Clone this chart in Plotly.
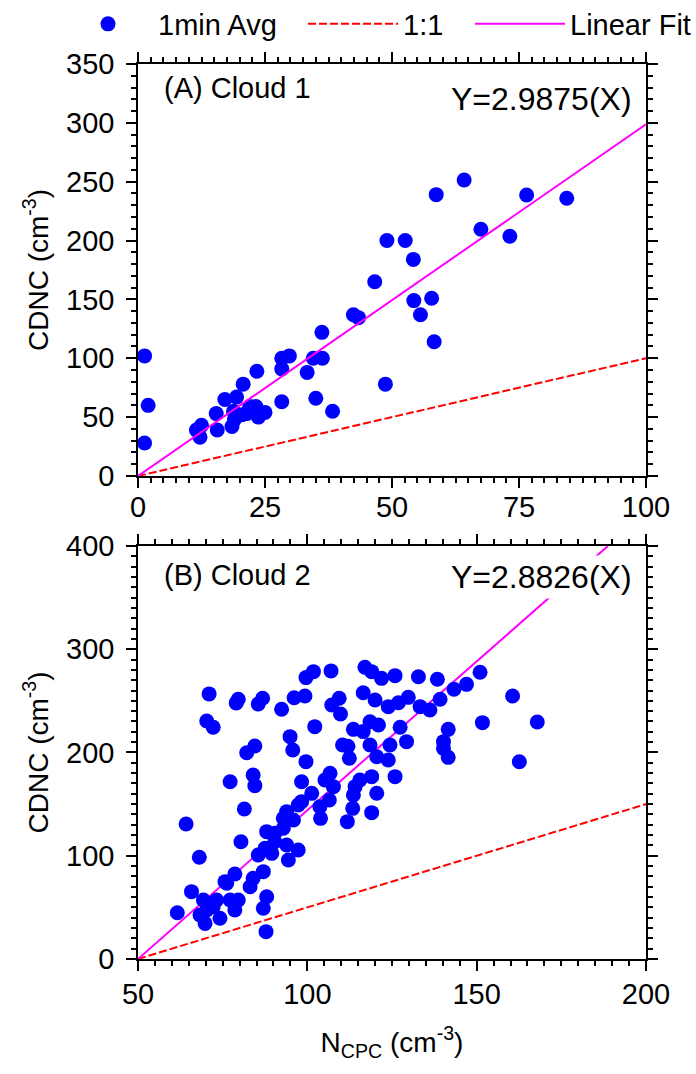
import plotly.graph_objects as go

# ---------------- data ----------------
cloud1_x = [1.3, 2.0, 1.3, 11.5, 12.5, 12.2, 15.4, 15.6, 17.1, 18.5, 18.8, 19.4, 20.7, 21.4,
            22.0, 23.2, 23.4, 23.7, 25.0, 28.3, 29.8, 28.3, 28.3, 33.3, 34.5, 36.3, 35.0, 36.2,
            38.3, 42.4, 43.4, 46.6, 48.7, 49.0, 52.6, 54.2, 54.3, 55.6, 57.8, 58.3, 58.7, 64.2,
            67.5, 73.2, 76.5, 84.4, 20.5, 19.0]
cloud1_y = [102, 60, 28, 39, 43, 33, 53, 39, 65, 42, 55, 67, 78, 53,
            59, 59, 89, 50, 54, 100, 102, 91, 63, 88, 100, 100, 66, 122,
            55, 137, 134.5, 165, 78, 200, 200, 184, 149, 137, 151, 114, 239, 251.5,
            209.6, 203.6, 238.7, 236, 52, 48]

cloud2_x = [71.0, 79.6, 79.0, 86.8, 85.5, 92.4, 96.1, 99.3, 99.6, 101.8, 107.0, 117.0, 119.0, 121.9,
            125.9, 132.8, 138.4, 143.3, 147.0, 151.0, 160.6, 116.5, 120.0, 123.9, 126.9, 129.8, 133.3,
            136.2, 139.2, 107.2, 109.4, 109.8,
            70.3, 72.2, 102.2, 113.6, 116.5, 118.5, 121.0, 127.4, 151.7, 167.9, 141.6, 140.2, 140.2,
            141.6, 94.9, 95.7, 84.5, 82.1, 99.6, 110.4, 112.0, 118.5, 124.4, 129.3, 112.4, 120.5,
            123.9, 162.6,
            77.2, 84.0, 84.5, 98.3, 125.9, 106.7, 105.2, 115.5, 119.0, 114.1, 120.5, 107.7, 113.6,
            113.4, 111.8, 119.0, 103.7, 103.9, 106.5, 101.3, 97.3, 98.3, 81.4,
            64.2, 80.4, 68.1, 93.9, 95.9, 92.9, 88.0, 90.4, 92.9, 93.9, 97.3, 94.4, 87.5, 85.5,
            89.5, 78.6, 76.2, 65.8, 84.0, 87.0, 83.1, 88.0, 87.0, 87.8, 79.6, 78.6, 61.6, 69.3,
            70.3, 68.3, 69.8, 74.2, 75.7, 73.2, 72.2, 77.2, 90.4]
cloud2_y = [256.7, 251.5, 248, 252.5, 247, 241.8, 253, 254.7, 272.5, 278.3, 279, 282.5, 278.3, 271.8,
            274.4, 273.4, 270.9, 261.2, 266, 277.7, 254.7, 257.9, 250.8, 244.4, 248.2, 253.4, 244.4,
            241.2, 251.5, 246, 252.5, 237.3,
            230.5, 224.4, 225, 222.4, 220.2, 229.8, 226.6, 224.4, 228.9, 229.5, 222.4, 210.5, 204,
            195.3, 215.3, 202.4, 206.3, 199.8, 191.1, 207.3, 206, 207.3, 207.3, 210.5, 194.4, 195.9,
            192.7, 191,
            171.7, 178.2, 167.9, 171.7, 176.6, 179.8, 173.4, 173.4, 176.6, 166.9, 160.5, 166.9, 158.8,
            145.9, 133, 141.7, 147.5, 136.2, 154, 160.4, 149.2, 152.4, 145.3,
            130.8, 113.6, 98.5, 142.7, 134.6, 136.3, 123.3, 121.7, 126.6, 110.4, 105.6, 95.9, 107.2, 100.7,
            102.3, 82.3, 73.3, 65.2, 78.2, 84.6, 70, 60.3, 49.1, 26.5, 57.1, 47.5, 44.8, 57.1,
            47.5, 42.6, 34.5, 39.4, 74.9, 57.1, 50.6, 57.1, 113.6]

# reference lines (endpoints in data units)
one2one_1_x = [0, 100]
one2one_1_y = [0, 100]
fit_1_x = [0, 100]
fit_1_y = [0, 298.75]
one2one_2_x = [50, 200]
one2one_2_y = [0, 150]
fit_2_x = [50, 50 + 400 / 2.8826]
fit_2_y = [0, 400]

FONT = "Liberation Sans, Arial, sans-serif"
BLUE = "#0000FF"
RED = "#FF0000"
MAG = "#FF00FF"
DASH = "8px,3px"

fig = go.Figure()

# panel A
fig.add_trace(go.Scatter(x=cloud1_x, y=cloud1_y, mode="markers", name="1min Avg",
                         marker=dict(color=BLUE, size=15, line=dict(width=0)),
                         xaxis="x", yaxis="y", legend="legend"))
fig.add_trace(go.Scatter(x=one2one_1_x, y=one2one_1_y, mode="lines", name="1:1",
                         line=dict(color=RED, width=2, dash=DASH), xaxis="x", yaxis="y",
                         legend="legend2"))
fig.add_trace(go.Scatter(x=fit_1_x, y=fit_1_y, mode="lines", name="Linear Fit",
                         line=dict(color=MAG, width=2), xaxis="x", yaxis="y", legend="legend3"))
# panel B
fig.add_trace(go.Scatter(x=one2one_2_x, y=one2one_2_y, mode="lines", showlegend=False,
                         line=dict(color=RED, width=2, dash=DASH), xaxis="x2", yaxis="y2"))
fig.add_trace(go.Scatter(x=fit_2_x, y=fit_2_y, mode="lines", showlegend=False,
                         line=dict(color=MAG, width=2), xaxis="x2", yaxis="y2"))
fig.add_trace(go.Scatter(x=cloud2_x, y=cloud2_y, mode="markers", showlegend=False,
                         marker=dict(color=BLUE, size=15, line=dict(width=0)),
                         xaxis="x2", yaxis="y2"))

tickfont = dict(family=FONT, size=29, color="black")
titlefont = dict(family=FONT, size=28, color="black")

def ax(**kw):
    d = dict(showgrid=False, zeroline=False, showline=True, linecolor="black", linewidth=1.5,
             mirror="ticks", ticks="outside", ticklen=10, tickwidth=1.5, tickcolor="black",
             tickfont=tickfont, automargin=False)
    d.update(kw)
    return d

def minor_kw(dt):
    return dict(dtick=dt, ticks="outside", ticklen=5, tickwidth=1.5, tickcolor="black",
                showgrid=False)

def leg(text_left_px):
    # legend box left edge so that the item text starts at text_left_px
    return dict(orientation="h", xref="paper", yref="container",
                x=(text_left_px - 102 - 138) / 508, xanchor="left",
                y=1 - 24 / 1074, yanchor="middle",
                font=dict(family=FONT, size=29, color="black"),
                itemwidth=90, bgcolor="rgba(0,0,0,0)", borderwidth=0)

fig.update_layout(
    width=696, height=1074,
    margin=dict(l=138, r=50, t=64, b=115),
    plot_bgcolor="white", paper_bgcolor="white",
    font=dict(family=FONT, color="black"),
    xaxis=ax(domain=[0, 1], anchor="y", range=[0, 100], tick0=0, dtick=25,
             minor=minor_kw(2.5), ticklabelstandoff=-6),
    yaxis=ax(domain=[0.5397, 1], anchor="x", range=[0, 350], tick0=0, dtick=50,
             minor=minor_kw(10), ticklabelstandoff=6,
             title=dict(text="CDNC (cm<sup>-3</sup>)", font=titlefont, standoff=9)),
    xaxis2=ax(domain=[0, 1], anchor="y2", range=[50, 200], tick0=50, dtick=50,
              minor=minor_kw(5), ticklabelstandoff=-2,
              title=dict(text="N<sub>CPC</sub> (cm<sup>-3</sup>)", font=titlefont, standoff=24)),
    yaxis2=ax(domain=[0, 0.4615], anchor="x2", range=[0, 400], tick0=0, dtick=100,
              minor=minor_kw(10), ticklabelstandoff=6,
              title=dict(text="CDNC (cm<sup>-3</sup>)", font=titlefont, standoff=9)),
    showlegend=True,
    legend=leg(160),
    legend2=leg(405),
    legend3=leg(573),
    annotations=[
        dict(text="(A) Cloud 1", xref="x domain", yref="y domain", x=0.047, y=0.942,
             xanchor="left", yanchor="middle", showarrow=False,
             font=dict(family=FONT, size=29, color="black")),
        dict(text="Y=2.9875(X)", xref="x domain", yref="y domain", x=0.98, y=0.915,
             xanchor="right", yanchor="middle", showarrow=False, bgcolor="white", borderpad=3,
             font=dict(family=FONT, size=32, color="black")),
        dict(text="(B) Cloud 2", xref="x2 domain", yref="y2 domain", x=0.047, y=0.930,
             xanchor="left", yanchor="middle", showarrow=False,
             font=dict(family=FONT, size=29, color="black")),
        dict(text="Y=2.8826(X)", xref="x2 domain", yref="y2 domain", x=0.98, y=0.925,
             xanchor="right", yanchor="middle", showarrow=False, bgcolor="white", borderpad=3,
             font=dict(family=FONT, size=32, color="black")),
    ],
)

fig.write_html("out.html")
